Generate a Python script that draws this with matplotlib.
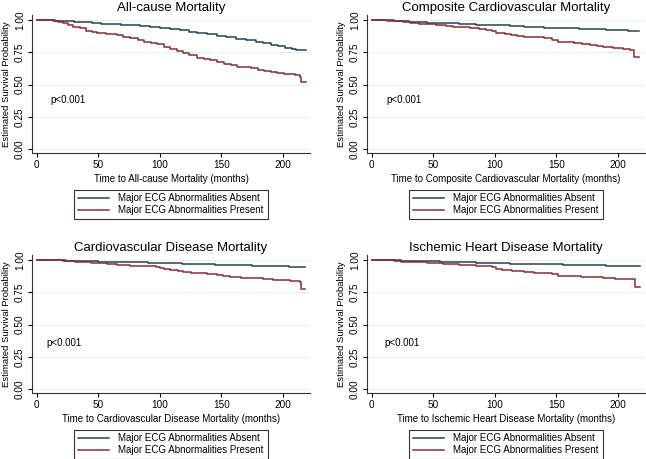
import matplotlib

matplotlib.use("Agg")

import matplotlib.pyplot as plt

plt.rcParams["font.family"] = ["Liberation Sans", "DejaVu Sans"]

TITLES = [
    "All-cause Mortality",
    "Composite Cardiovascular Mortality",
    "Cardiovascular Disease Mortality",
    "Ischemic Heart Disease Mortality",
]
XLABELS = [
    "Time to All-cause Mortality (months)",
    "Time to Composite Cardiovascular Mortality (months)",
    "Time to Cardiovascular Disease Mortality (months)",
    "Time to Ischemic Heart Disease Mortality (months)",
]
SERIES_NAMES = ["Major ECG Abnormalities Absent", "Major ECG Abnormalities Present"]
P_TEXT = "p<0.001"

# step points (months, survival)
allcause_absent_t = [0, 8, 15, 22, 30, 38, 45, 52, 60, 68, 76, 84, 92, 100, 108, 116, 124, 130, 138,
                     146, 154, 162, 170, 178, 184, 190, 196, 202, 207, 211, 219]
allcause_absent_s = [1.0, 0.997, 0.993, 0.99, 0.986, 0.981, 0.977, 0.972, 0.968, 0.964, 0.959, 0.953, 0.946,
                     0.938, 0.93, 0.92, 0.91, 0.899, 0.89, 0.879, 0.868, 0.856, 0.843, 0.83, 0.82, 0.806,
                     0.795, 0.784, 0.775, 0.766, 0.764]
allcause_present_t = [0, 13, 17, 21, 25, 29, 35, 40, 45, 49, 56, 65, 70, 76, 82, 87, 93, 98, 103, 108,
                      114, 119, 124, 130, 136, 141, 146, 152, 158, 163, 168, 174, 180, 185, 190, 195, 201,
                      206, 210, 214, 215, 219]
allcause_present_s = [1.0, 0.99, 0.982, 0.974, 0.962, 0.948, 0.935, 0.918, 0.91, 0.902, 0.893, 0.884, 0.872,
                      0.858, 0.845, 0.832, 0.823, 0.814, 0.789, 0.776, 0.763, 0.745, 0.73, 0.709, 0.7,
                      0.691, 0.675, 0.66, 0.648, 0.639, 0.632, 0.626, 0.612, 0.601, 0.594, 0.588, 0.584,
                      0.58, 0.57, 0.562, 0.52, 0.52]

composite_absent_t = [0, 10, 18, 30, 45, 60, 71, 85, 100, 112, 124, 140, 155, 168, 177, 190, 200, 208, 213, 217]
composite_absent_s = [1.0, 0.997, 0.992, 0.986, 0.98, 0.974, 0.969, 0.964, 0.959, 0.953, 0.948, 0.942, 0.937,
                      0.932, 0.93, 0.925, 0.921, 0.918, 0.915, 0.915]
composite_present_t = [0, 12, 18, 25, 31, 38, 44, 52, 60, 66, 71, 80, 87, 93, 98, 101, 108, 113, 118, 124,
                       132, 140, 146, 151, 158, 164, 171, 177, 183, 188, 196, 204, 210, 213, 217]
composite_present_s = [1.0, 0.995, 0.99, 0.985, 0.978, 0.972, 0.969, 0.962, 0.954, 0.949, 0.943, 0.938, 0.933,
                       0.925, 0.918, 0.897, 0.89, 0.884, 0.877, 0.871, 0.866, 0.858, 0.845, 0.832, 0.826,
                       0.82, 0.814, 0.807, 0.798, 0.789, 0.781, 0.773, 0.768, 0.716, 0.716]

cvd_absent_t = [0, 12, 21, 35, 50, 65, 76, 90, 105, 118, 130, 145, 160, 175, 184, 195, 205, 212, 218]
cvd_absent_s = [1.0, 0.998, 0.995, 0.992, 0.988, 0.985, 0.982, 0.979, 0.975, 0.972, 0.969, 0.965, 0.96,
                0.956, 0.953, 0.95, 0.947, 0.944, 0.943]
cvd_present_t = [0, 15, 24, 31, 38, 44, 49, 57, 65, 70, 76, 86, 97, 100, 103, 108, 111, 115, 119, 125, 130,
                 138, 146, 151, 157, 166, 175, 184, 192, 200, 206, 210, 214, 215, 218]
cvd_present_s = [1.0, 0.998, 0.995, 0.988, 0.982, 0.978, 0.974, 0.969, 0.964, 0.961, 0.956, 0.95, 0.943,
                 0.936, 0.93, 0.926, 0.922, 0.912, 0.904, 0.9, 0.896, 0.89, 0.883, 0.874, 0.865, 0.861,
                 0.858, 0.852, 0.848, 0.843, 0.839, 0.836, 0.833, 0.773, 0.773]

ihd_absent_t = [0, 12, 24, 40, 55, 71, 85, 100, 112, 124, 140, 155, 168, 177, 190, 200, 210, 218]
ihd_absent_s = [1.0, 0.997, 0.992, 0.989, 0.985, 0.982, 0.979, 0.976, 0.972, 0.969, 0.966, 0.963, 0.961,
                0.959, 0.957, 0.955, 0.954, 0.953]
ihd_present_t = [0, 18, 24, 32, 45, 58, 71, 85, 98, 101, 106, 114, 119, 124, 132, 140, 146, 151, 160, 170,
                 177, 188, 198, 204, 210, 214, 218]
ihd_present_s = [1.0, 0.993, 0.987, 0.982, 0.974, 0.968, 0.961, 0.955, 0.948, 0.93, 0.925, 0.918, 0.912,
                 0.907, 0.902, 0.897, 0.889, 0.876, 0.874, 0.871, 0.866, 0.861, 0.856, 0.853, 0.85, 0.789,
                 0.789]

CURVES = [
    (allcause_absent_t, allcause_absent_s, allcause_present_t, allcause_present_s),
    (composite_absent_t, composite_absent_s, composite_present_t, composite_present_s),
    (cvd_absent_t, cvd_absent_s, cvd_present_t, cvd_present_s),
    (ihd_absent_t, ihd_absent_s, ihd_present_t, ihd_present_s),
]
P_POS = [(11, 0.38), (12, 0.38), (8, 0.36), (10, 0.36)]

ABSENT_COLOR = "#2c3e57"
PRESENT_COLOR = "#8c2a37"

W, H = 646, 459
# axes boxes in pixels: left, top, width, height
BOXES = [(32, 15, 278, 138), (367, 15, 278, 138), (32, 255, 278, 138), (367, 255, 278, 138)]

fig = plt.figure(figsize=(W / 100, H / 100), dpi=100)

for i, (left, top, w, h) in enumerate(BOXES):
    ax = fig.add_axes([left / W, 1 - (top + h) / H, w / W, h / H])
    at, a_s, pt, p_s = CURVES[i]
    ax.step(at, a_s, where="post", color=ABSENT_COLOR, lw=1.1, label=SERIES_NAMES[0])
    ax.step(pt, p_s, where="post", color=PRESENT_COLOR, lw=1.1, label=SERIES_NAMES[1])

    ax.set_xlim(-4, 222)
    ax.set_ylim(-0.031, 1.039)
    ax.set_xticks([0, 50, 100, 150, 200])
    ax.set_yticks([0, 0.25, 0.5, 0.75, 1.0])
    ax.set_yticklabels(["0.00", "0.25", "0.50", "0.75", "1.00"], rotation=90, va="center")
    ax.tick_params(labelsize=7.2, length=3, width=0.8, pad=2)
    ax.grid(axis="y", color="#e6eef0", lw=0.8)
    ax.set_axisbelow(True)
    for side in ["top", "right"]:
        ax.spines[side].set_visible(False)
    for side in ["left", "bottom"]:
        ax.spines[side].set_linewidth(0.8)
        ax.spines[side].set_color("#333333")

    ax.set_title(TITLES[i], fontsize=9.5, pad=3)
    ax.set_xlabel(XLABELS[i], fontsize=7, labelpad=3)
    ax.set_ylabel("Estimated Survival Probability", fontsize=6.8, labelpad=3)
    ax.text(P_POS[i][0], P_POS[i][1], P_TEXT, fontsize=7, va="center")

    leg = ax.legend(loc="upper center", bbox_to_anchor=(0.5, -0.265), ncol=1,
                    fontsize=7, frameon=True, fancybox=False, edgecolor="black",
                    handlelength=3.2, handletextpad=0.9, borderpad=0.4,
                    labelspacing=0.2, borderaxespad=0)
    leg.get_frame().set_linewidth(0.8)

fig.savefig("out.png", dpi=100)
